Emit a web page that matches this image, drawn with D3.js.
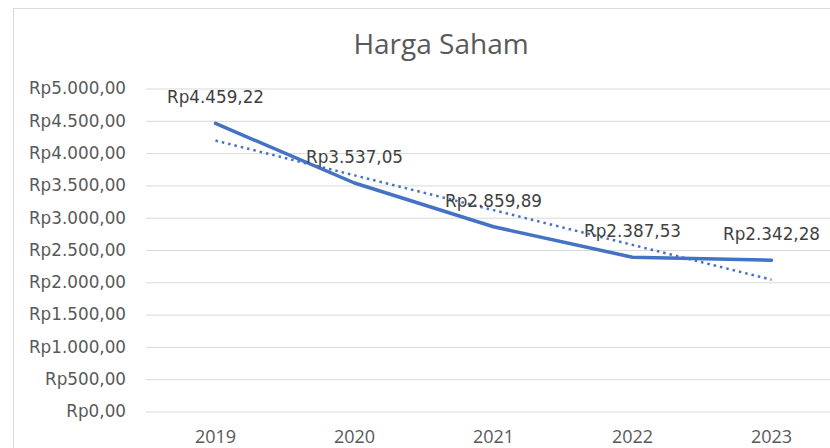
<!DOCTYPE html>
<html>
<head>
<meta charset="utf-8">
<script src="https://cdn.jsdelivr.net/npm/d3@7"></script>
<style>
  html, body { margin: 0; padding: 0; background: #fff; }
  svg { display: block; }
  .dv { font-family: "DejaVu Sans", Verdana, sans-serif; }
</style>
</head>
<body>
<svg id="chart" width="830" height="448"></svg>
<script>
const title = "Harga Saham";
const years = ["2019", "2020", "2021", "2022", "2023"];
const prices = [4459.22, 3537.05, 2859.89, 2387.53, 2342.28];
const priceLabels = ["Rp4.459,22", "Rp3.537,05", "Rp2.859,89", "Rp2.387,53", "Rp2.342,28"];
const yTicks = [0, 500, 1000, 1500, 2000, 2500, 3000, 3500, 4000, 4500, 5000];
const yTickLabels = ["Rp0,00", "Rp500,00", "Rp1.000,00", "Rp1.500,00", "Rp2.000,00", "Rp2.500,00",
                     "Rp3.000,00", "Rp3.500,00", "Rp4.000,00", "Rp4.500,00", "Rp5.000,00"];

const svg = d3.select("#chart");

// chart area border
svg.append("rect")
  .attr("x", 13.5).attr("y", 8.5)
  .attr("width", 900).attr("height", 600)
  .attr("fill", "#fff").attr("stroke", "#d9d9d9").attr("stroke-width", 1);

const x = d3.scaleBand().domain(years).range([146, 841]).paddingInner(0).paddingOuter(0);
const y = d3.scaleLinear().domain([0, 5000]).range([411.5, 88.5]);
const cx = d => x(d) + x.bandwidth() / 2;

// title
svg.append("text")
  .attr("x", 441).attr("y", 54)
  .attr("text-anchor", "middle")
  .attr("font-family", "'Open Sans', sans-serif")
  .attr("font-size", 28)
  .attr("fill", "#595959")
  .text(title);

// y axis (gridlines + labels)
const yAxis = d3.axisLeft(y)
  .tickValues(yTicks)
  .tickSize(-(841 - 146))
  .tickPadding(20)
  .tickFormat((d, i) => yTickLabels[i]);

const gy = svg.append("g").attr("transform", "translate(146,0)").call(yAxis);
gy.attr("font-family", null).attr("font-size", null);
gy.select(".domain").remove();
gy.selectAll(".tick line").attr("stroke", "#d9d9d9").attr("stroke-width", 1);
gy.selectAll(".tick text")
  .attr("class", "dv")
  .style("font-size", "16.8px")
  .attr("fill", "#595959");

// x axis labels
const xAxis = d3.axisBottom(x).tickSize(0).tickPadding(0);
const gx = svg.append("g").attr("transform", "translate(0,411.5)").call(xAxis);
gx.select(".domain").remove();
gx.selectAll(".tick text")
  .attr("y", 31.5).attr("dy", 0)
  .attr("font-family", "'Open Sans', sans-serif")
  .attr("font-size", 18)
  .attr("fill", "#595959");

// linear trendline computed from the data (least squares)
const n = prices.length;
const idx = d3.range(n);
const mx = d3.mean(idx), my = d3.mean(prices);
const slope = d3.sum(idx, i => (i - mx) * (prices[i] - my)) / d3.sum(idx, i => (i - mx) * (i - mx));
const intercept = my - slope * mx;
const trend = idx.map(i => ({ year: years[i], v: intercept + slope * i }));

const line = d3.line().x(d => cx(d.year)).y(d => y(d.v));

// main series
const series = years.map((yr, i) => ({ year: yr, v: prices[i] }));
svg.append("path")
  .datum(series)
  .attr("d", line)
  .attr("fill", "none")
  .attr("stroke", "#4472C4")
  .attr("stroke-width", 3.5)
  .attr("stroke-linejoin", "round")
  .attr("stroke-linecap", "round");

svg.append("path")
  .datum(trend)
  .attr("d", line)
  .attr("fill", "none")
  .attr("stroke", "#4472C4")
  .attr("stroke-width", 2.5)
  .attr("stroke-dasharray", "2.5 4");

// data labels
svg.append("g").selectAll("text")
  .data(series)
  .join("text")
  .attr("class", "dv")
  .attr("x", d => cx(d.year))
  .attr("y", d => y(d.v) - 20)
  .attr("text-anchor", "middle")
  .style("font-size", "16.8px")
  .attr("fill", "#404040")
  .text((d, i) => priceLabels[i]);
</script>
</body>
</html>
